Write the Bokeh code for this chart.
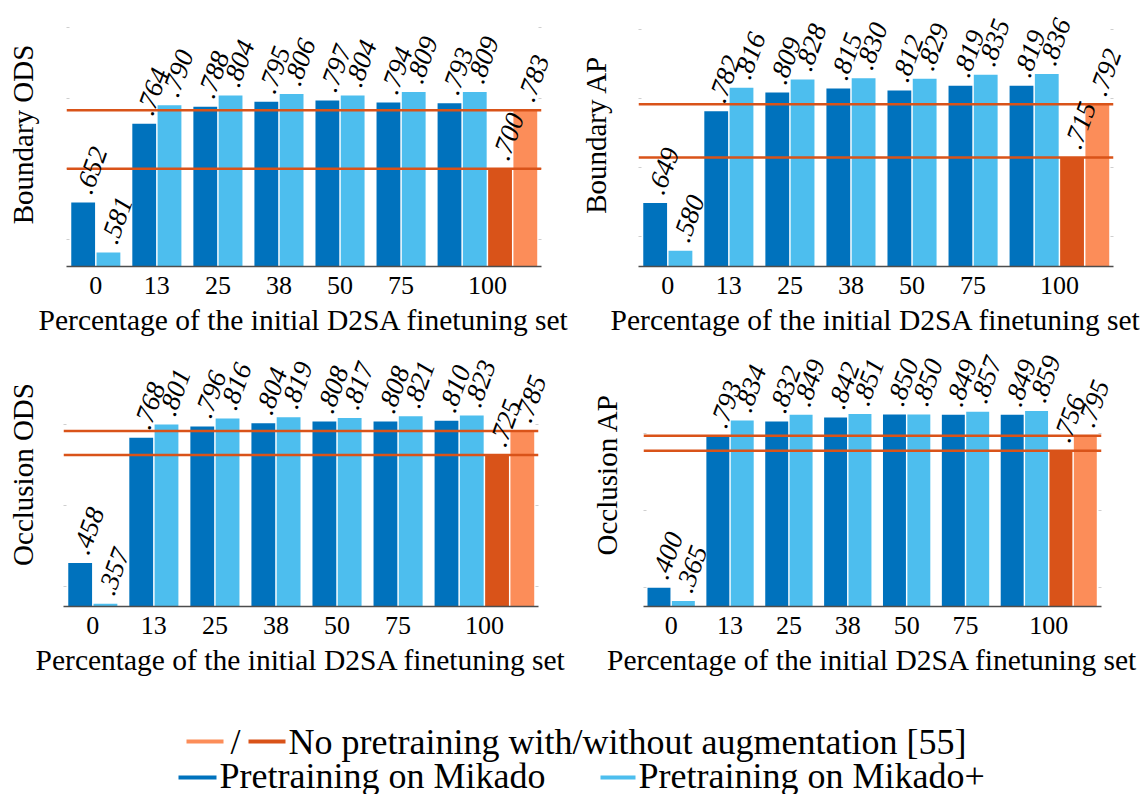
from bokeh.plotting import figure
from bokeh.models import Range1d, FixedTicker, LinearAxis, Span, ColumnDataSource
from bokeh.layouts import column, row
from bokeh.embed import file_html
from bokeh.resources import INLINE
from bokeh.core.properties import value

# ---------------- data ----------------
categories = ["0", "13", "25", "38", "50", "75", "100"]

boundary_ods_mikado = [0.652, 0.764, 0.788, 0.795, 0.797, 0.794, 0.793]
boundary_ods_mikado_plus = [0.581, 0.790, 0.804, 0.806, 0.804, 0.809, 0.809]
boundary_ods_nopre = 0.700
boundary_ods_nopre_aug = 0.783

boundary_ap_mikado = [0.649, 0.782, 0.809, 0.815, 0.812, 0.819, 0.819]
boundary_ap_mikado_plus = [0.580, 0.816, 0.828, 0.830, 0.829, 0.835, 0.836]
boundary_ap_nopre = 0.715
boundary_ap_nopre_aug = 0.792

occlusion_ods_mikado = [0.458, 0.768, 0.796, 0.804, 0.808, 0.808, 0.810]
occlusion_ods_mikado_plus = [0.357, 0.801, 0.816, 0.819, 0.817, 0.821, 0.823]
occlusion_ods_nopre = 0.725
occlusion_ods_nopre_aug = 0.785

occlusion_ap_mikado = [0.400, 0.793, 0.832, 0.842, 0.850, 0.849, 0.849]
occlusion_ap_mikado_plus = [0.365, 0.834, 0.849, 0.851, 0.850, 0.857, 0.859]
occlusion_ap_nopre = 0.756
occlusion_ap_nopre_aug = 0.795

x_title = "Percentage of the initial D2SA finetuning set"
legend_labels = ["/", "No pretraining with/without augmentation [55]",
                 "Pretraining on Mikado", "Pretraining on Mikado+"]

# ---------------- style ----------------
C_MIK = "#0072BD"
C_MIKP = "#4DBEEE"
C_NP = "#D95319"
C_NPA = "#FC8D59"
FONT = "Liberation Serif"
OFF = 0.207
BAR_W = 0.39


def fmt(v):
    return "." + f"{v:.3f}".split(".")[1]


def panel(ylabel, mik, mikp, nopre, nopre_aug, yr, yticks, xr, width, height,
          bl, br, bt, bb, ylab_standoff):
    p = figure(width=width, height=height, x_range=Range1d(*xr), y_range=Range1d(*yr),
               output_backend="svg", toolbar_location=None,
               min_border_left=bl, min_border_right=br, min_border_top=bt, min_border_bottom=bb)
    p.grid.visible = False
    p.outline_line_color = None
    p.background_fill_color = "white"

    n = len(categories)
    last = n - 1
    xs, tops, cols = [], [], []
    for i in range(n):
        xs += [i - OFF, i + OFF]
        tops += [mik[i], mikp[i]]
        cols += [C_MIK, C_MIKP]
    xs += [last + 3 * OFF, last + 5 * OFF]
    tops += [nopre, nopre_aug]
    cols += [C_NP, C_NPA]
    src = ColumnDataSource(dict(x=xs, top=tops, color=cols, label=[fmt(v) for v in tops]))

    p.vbar(x="x", top="top", bottom=0, width=BAR_W, fill_color="color",
           line_color=None, source=src)
    for v in (nopre, nopre_aug):
        p.add_layout(Span(location=v, dimension="width", line_color=C_NP, line_width=2.5))
    t = p.text(x="x", y="top", text="label", source=src, angle=70, angle_units="deg",
               text_align="left", text_baseline="alphabetic", y_offset=-10,
               text_font=value(FONT), text_font_style="italic", text_font_size="27px",
               text_color="black")
    t.level = "overlay"

    tick_pos = [float(i) for i in range(last)] + [last + 2 * OFF]
    xa = p.xaxis[0]
    xa.ticker = FixedTicker(ticks=tick_pos)
    xa.major_label_overrides = {pos: lab for pos, lab in zip(tick_pos, categories)}
    xa.axis_line_color = "#4d4d4d"
    xa.axis_line_width = 1.5
    xa.major_tick_line_color = None
    xa.minor_tick_line_color = None
    xa.major_label_text_font = FONT
    xa.major_label_text_font_size = "26px"
    xa.major_label_text_color = "black"
    xa.major_label_standoff = 4
    xa.axis_label = x_title
    xa.axis_label_text_font = FONT
    xa.axis_label_text_font_size = "29.5px"
    xa.axis_label_text_font_style = "normal"
    xa.axis_label_text_color = "black"
    xa.axis_label_standoff = 7

    ya = p.yaxis[0]
    ya.ticker = FixedTicker(ticks=yticks)
    ya.axis_line_color = None
    ya.major_tick_in = 3
    ya.major_tick_out = 0
    ya.major_tick_line_color = "#cfcfcf"
    ya.minor_tick_line_color = None
    ya.major_label_text_font_size = "1px"
    ya.major_label_text_color = None
    ya.major_label_standoff = 0
    ya.axis_label = ylabel
    ya.axis_label_text_font = FONT
    ya.axis_label_text_font_size = "29px"
    ya.axis_label_text_font_style = "normal"
    ya.axis_label_text_color = "black"
    ya.axis_label_standoff = ylab_standoff

    ra = LinearAxis(ticker=FixedTicker(ticks=yticks), axis_line_color=None,
                    major_tick_in=3, major_tick_out=0, major_tick_line_color="#cfcfcf",
                    minor_tick_line_color=None, major_label_text_font_size="1px",
                    major_label_text_color=None, major_label_standoff=0)
    p.add_layout(ra, "right")
    return p


p1 = panel("Boundary ODS", boundary_ods_mikado, boundary_ods_mikado_plus,
           boundary_ods_nopre, boundary_ods_nopre_aug, (0.561, 0.9362), [0.6, 0.7, 0.8, 0.9],
           (-0.48, 7.3), 576, 340, 66, 35, 2, 74, 28)
p2 = panel("Boundary AP", boundary_ap_mikado, boundary_ap_mikado_plus,
           boundary_ap_nopre, boundary_ap_nopre_aug, (0.557, 0.9396), [0.6, 0.7, 0.8, 0.9],
           (-0.48, 7.3), 564, 340, 62, 27, 2, 74, 27)
p3 = panel("Occlusion ODS", occlusion_ods_mikado, occlusion_ods_mikado_plus,
           occlusion_ods_nopre, occlusion_ods_nopre_aug, (0.35, 1.004), [0.4, 0.6, 0.8],
           (-0.48, 7.3), 576, 340, 63, 38, 2, 74, 25)
p4 = panel("Occlusion AP", occlusion_ap_mikado, occlusion_ap_mikado_plus,
           occlusion_ap_nopre, occlusion_ap_nopre_aug, (0.351, 1.037), [0.4, 0.6, 0.8],
           (-0.47, 7.31), 564, 340, 67, 39, 2, 72, 21)

# ---------------- legend ----------------
leg = figure(width=1140, height=114, x_range=Range1d(0, 1140), y_range=Range1d(794, 680),
             output_backend="svg", toolbar_location=None, min_border=0,
             x_axis_location=None, y_axis_location=None)
leg.grid.visible = False
leg.outline_line_color = None
leg.segment(x0=[186, 248, 178, 600], x1=[223, 285, 216, 635],
            y0=[741, 741, 777, 777], y1=[741, 741, 777, 777],
            line_color=[C_NPA, C_NP, C_MIK, C_MIKP], line_width=4)
leg.text(x=[235], y=[741], text=[legend_labels[0]], text_align="center",
         text_baseline="alphabetic", text_font=value(FONT), text_font_size="36px",
         text_color="black")
leg.text(x=[288, 219, 638], y=[741, 775, 775], text=legend_labels[1:], text_align="left",
         text_baseline="alphabetic", text_font=value(FONT), text_font_size="36px",
         text_color="black")

layout = column(row(p1, p2), row(p3, p4), leg)
open("out.html", "w").write(file_html(layout, INLINE))
